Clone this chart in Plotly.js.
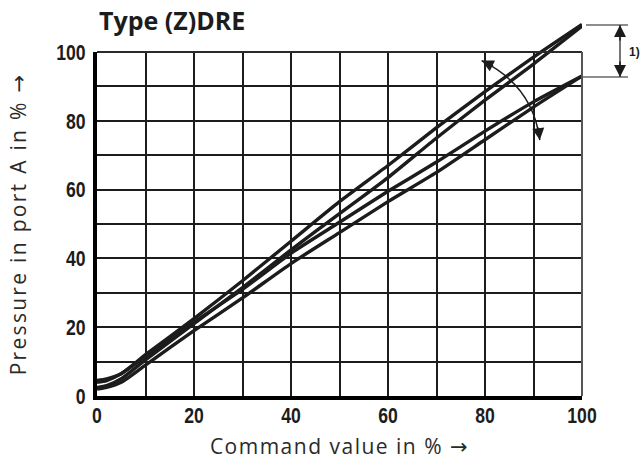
<!DOCTYPE html>
<html>
<head>
<meta charset="utf-8">
<script src="https://cdn.plot.ly/plotly-3.0.1.min.js"></script>
<style>
html,body{margin:0;padding:0;background:#fff;}
#chart{width:640px;height:460px;}
#chart .xtitle{letter-spacing:1.5px;}
#chart .ytitle{letter-spacing:2.3px;}
</style>
</head>
<body>
<div id="chart"></div>
<script>
// Command value (%)
const commandValue = [0, 2, 5, 10, 20, 30, 40, 50, 60, 70, 80, 90, 100];
// Pressure in port A (%) – four characteristic curves (two hysteresis pairs)
const upperRising  = [4, 4.5, 6.5, 12, 22.5, 33.5, 45, 56.5, 67, 78, 88.5, 98.5, 108];
const upperFalling = [2.5, 3, 5, 10.5, 21, 31.5, 42.5, 53, 63.5, 75, 86, 96.5, 107.5];
const lowerRising  = [4.5, 5, 6.5, 11.5, 21.5, 31, 41.5, 50.5, 59.5, 68, 77, 85.5, 93];
const lowerFalling = [2, 2.5, 4, 9, 19, 28.5, 38.5, 47.5, 56.5, 65, 74.5, 84, 93];
const seriesList = [upperRising, upperFalling, lowerRising, lowerFalling];

const xTickVals = [0, 20, 40, 60, 80, 100];
const xTickText = ['0', '20', '40', '60', '80', '100'];
const yTickVals = [0, 20, 40, 60, 80, 100];
const yTickText = ['0', '20', '40', '60', '80', '100'];

const chartTitle = 'Type (Z)DRE';
const xTitle = 'Command value in %';
const yTitle = 'Pressure in port A in %';
const arrowGlyph = '→';
const noteLabel = '1)';

// layout geometry (plot area 97..582 x 17..396 px; grid part up to y=100 at 52 px)
const gridTop = 344 / 379;
const ink = '#1c1c1c';
const numFont = {family: 'Liberation Sans, Arial, sans-serif', size: 22, color: ink, weight: 700};
const txtFont = {family: 'Open Sans, Noto Sans, sans-serif', size: 21, color: '#2a2a2a'};
const withArrow = t => t + ' <span style="font-family:DejaVu Sans">' + arrowGlyph + '</span>';

const traces = seriesList.map(s => ({
  x: commandValue, y: s, xaxis: 'x2', yaxis: 'y2',
  type: 'scatter', mode: 'lines',
  line: {color: ink, width: 3.4, shape: 'spline', smoothing: 0.6},
  hoverinfo: 'skip'
}));
// invisible carrier trace so the gridded base axes are built
traces.unshift({x: commandValue, y: lowerFalling, xaxis: 'x', yaxis: 'y', type: 'scatter', mode: 'lines',
  line: {color: 'rgba(0,0,0,0)', width: 0}, hoverinfo: 'skip'});

const px = p => (p - 97) / 485;
const py = p => (396 - p) / 379;

const layout = {
  width: 640, height: 460,
  margin: {l: 97, r: 58, t: 17, b: 64},
  paper_bgcolor: '#fff', plot_bgcolor: 'rgba(0,0,0,0)',
  showlegend: false,
  title: {text: '<b>' + chartTitle + '</b>', font: {family: 'Open Sans, Noto Sans, sans-serif', size: 25, color: ink},
          xref: 'paper', x: 0.004, xanchor: 'left', yref: 'container', y: 1 - 21 / 460, yanchor: 'middle'},
  xaxis: {
    domain: [0, 1], range: [0, 100], anchor: 'y', autorange: false,
    tickmode: 'array', tickvals: xTickVals, ticktext: xTickText, tickfont: numFont,
    ticks: '', ticklabelstandoff: -3,
    showgrid: true, gridcolor: ink, gridwidth: 2,
    minor: {dtick: 10, showgrid: true, gridcolor: ink, gridwidth: 2},
    showline: true, linecolor: '#000', linewidth: 4, zeroline: false,
    title: {text: withArrow(xTitle), font: txtFont, standoff: 14}
  },
  yaxis: {
    domain: [0, gridTop], range: [0, 100], anchor: 'x', autorange: false,
    tickmode: 'array', tickvals: yTickVals, ticktext: yTickText, tickfont: numFont,
    ticks: 'outside', ticklen: 3, tickcolor: 'rgba(0,0,0,0)',
    showgrid: true, gridcolor: ink, gridwidth: 2,
    minor: {dtick: 10, showgrid: true, gridcolor: ink, gridwidth: 2},
    showline: true, linecolor: '#000', linewidth: 4, zeroline: false,
    title: {text: withArrow(yTitle), font: txtFont, standoff: 18}
  },
  xaxis2: {domain: [0, 1], range: [0, 100], anchor: 'y2', visible: false, autorange: false},
  yaxis2: {domain: [0, 1], range: [0, 100 / gridTop], anchor: 'x2', visible: false, autorange: false},
  shapes: [
    {type: 'line', xref: 'paper', yref: 'paper', x0: 0, x1: 1, y0: gridTop, y1: gridTop, line: {color: '#2a2a2a', width: 2}},
    {type: 'line', xref: 'paper', yref: 'paper', x0: 1, x1: 1, y0: 0, y1: gridTop, line: {color: '#555', width: 2}},
    {type: 'path', xref: 'x2', yref: 'y2', path: 'M 79.3,97.5 Q 89.9,90.2 91.3,74.4', line: {color: ink, width: 1.5}},
    {type: 'line', xref: 'paper', yref: 'paper', x0: px(586), x1: px(628), y0: py(25), y1: py(25), line: {color: ink, width: 1.2}},
    {type: 'line', xref: 'paper', yref: 'paper', x0: px(583), x1: px(628), y0: py(77), y1: py(77), line: {color: ink, width: 1.2}},
    {type: 'line', xref: 'paper', yref: 'paper', x0: px(620), x1: px(620), y0: py(25), y1: py(77), line: {color: ink, width: 1.2}}
  ],
  annotations: [
    {xref: 'x2', yref: 'y2', x: 79.3, y: 97.5, ax: 13, ay: 6.3, text: '', showarrow: true,
     arrowhead: 2, arrowsize: 1.6, arrowwidth: 1.5, arrowcolor: ink},
    {xref: 'x2', yref: 'y2', x: 91.3, y: 74.4, ax: -1.8, ay: -14, text: '', showarrow: true,
     arrowhead: 2, arrowsize: 1.6, arrowwidth: 1.5, arrowcolor: ink},
    {xref: 'paper', yref: 'paper', x: px(620), y: py(25), ax: 0, ay: 17, text: '', showarrow: true,
     arrowhead: 2, arrowsize: 1.6, arrowwidth: 1.5, arrowcolor: ink},
    {xref: 'paper', yref: 'paper', x: px(620), y: py(77), ax: 0, ay: -17, text: '', showarrow: true,
     arrowhead: 2, arrowsize: 1.6, arrowwidth: 1.5, arrowcolor: ink},
    {xref: 'paper', yref: 'paper', x: px(634), y: py(52), text: '<b>' + noteLabel + '</b>', showarrow: false,
     font: {family: 'Liberation Sans, Arial, sans-serif', size: 12, color: ink}, xanchor: 'center', yanchor: 'middle'}
  ]
};

Plotly.newPlot('chart', traces, layout, {staticPlot: true, displayModeBar: false}).then(gd => {
  // condense the bold tick numerals horizontally around their anchor point
  gd.querySelectorAll('.xtick text, .ytick text').forEach(t => {
    const ax = parseFloat(t.getAttribute('x')) || 0;
    const tr = t.getAttribute('transform') || '';
    t.setAttribute('transform', tr + ' translate(' + ax + ',0) scale(0.8,1) translate(' + (-ax) + ',0)');
  });
});
</script>
</body>
</html>
